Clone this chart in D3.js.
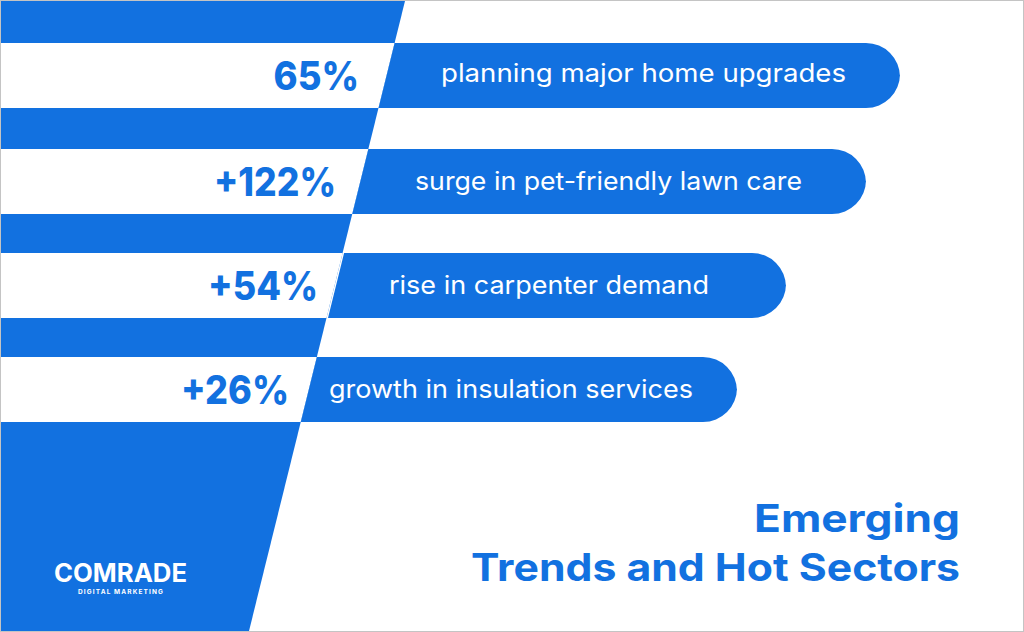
<!DOCTYPE html>
<html><head><meta charset="utf-8">
<script src="https://cdn.jsdelivr.net/npm/d3@7/dist/d3.min.js"></script>
<style>html,body{margin:0;background:#fff}svg{display:block}text{font-family:Inter,"Open Sans",sans-serif}</style>
</head><body><svg id="c" width="1024" height="632"></svg>
<script>
const categories = ["planning major home upgrades","surge in pet-friendly lawn care","rise in carpenter demand","growth in insulation services"];
const valueLabels = ["65%","+122%","+54%","+26%"];
const barEnds = [900,866,786,737];
const titleLines = ["Emerging","Trends and Hot Sectors"];
const BLUE = "#1271e0";

const layout = {
  rowTops:[43,149,253,357],
  barOffset:[0,0,1.5,0],
  valueX:[[273.5,359],[214,336],[208,318],[181,289]],
  labelX:[[441,846],[415,802],[389,709],[329,693]],
  labelBase:[82,190,294,398],
  titleX:[754,471],
  titleBase:[532,581]
};

const W=1024,H=632,yTop=1,yBottom=631;
const svg=d3.select("#c");
const y=d3.scaleOrdinal(categories,layout.rowTops);
const slant=d3.scaleLinear().domain([yTop,yBottom]).range([405,249]);
const bh=65;

svg.append("rect").attr("width",W).attr("height",H).attr("fill","#fff");
svg.append("path").attr("fill",BLUE)
  .attr("d",d3.line()([[0,yTop],[slant(yTop),yTop],[slant(yBottom),yBottom],[0,yBottom]]));
svg.selectAll(".cut").data(categories).join("path").attr("class","cut").attr("fill","#fff")
  .attr("d",c=>{const a=y(c),b=a+bh;return d3.line()([[0,a],[slant(a),a],[slant(b),b],[0,b]])+"Z";});
const bar=(c,i)=>{
  const a=y(c),b=a+bh,r=34,e=barEnds[i],o=layout.barOffset[i];
  const p=d3.path();
  p.moveTo(slant(a)+o,a);p.lineTo(e-r,a);p.arcTo(e,a,e,a+r,r);p.lineTo(e,b-r);p.arcTo(e,b,e-r,b,r);
  p.lineTo(slant(b)+o,b);p.closePath();return p.toString();
};
svg.selectAll(".bar").data(categories).join("path").attr("class","bar").attr("fill",BLUE).attr("d",bar);
svg.selectAll(".lab").data(categories).join("text").attr("class","lab")
  .attr("x",(c,i)=>layout.labelX[i][0]).attr("y",(c,i)=>layout.labelBase[i])
  .attr("fill","#fff").attr("font-size",25).attr("font-weight",400)
  .attr("textLength",(c,i)=>layout.labelX[i][1]-layout.labelX[i][0]).attr("lengthAdjust","spacingAndGlyphs")
  .text(c=>c);
svg.selectAll(".val").data(categories).join("text").attr("class","val")
  .attr("x",(c,i)=>layout.valueX[i][0]).attr("y",c=>y(c)+46.5)
  .attr("fill",BLUE).attr("font-size",39).attr("font-weight",800)
  .attr("textLength",(c,i)=>layout.valueX[i][1]-layout.valueX[i][0]).attr("lengthAdjust","spacingAndGlyphs")
  .text((c,i)=>valueLabels[i]);
svg.selectAll(".title").data(titleLines).join("text").attr("class","title")
  .attr("x",(t,i)=>layout.titleX[i]).attr("y",(t,i)=>layout.titleBase[i])
  .attr("fill",BLUE).attr("font-size",38.5).attr("font-weight",700)
  .attr("textLength",(t,i)=>960-layout.titleX[i]).attr("lengthAdjust","spacingAndGlyphs")
  .text(t=>t);
svg.append("text").attr("x",54).attr("y",581.5).attr("fill","#fff").attr("font-size",25).attr("font-weight",700)
  .attr("textLength",133).attr("lengthAdjust","spacingAndGlyphs").text("COMRADE");
svg.append("text").attr("x",78).attr("y",594).attr("fill","#fff").attr("font-size",6.5).attr("font-weight",700)
  .attr("textLength",85).attr("lengthAdjust","spacing").text("DIGITAL MARKETING");
svg.append("rect").attr("x",0.5).attr("y",0.5).attr("width",W-1).attr("height",H-1)
  .attr("fill","none").attr("stroke","#c4c4c4").attr("stroke-width",1);
</script></body></html>
